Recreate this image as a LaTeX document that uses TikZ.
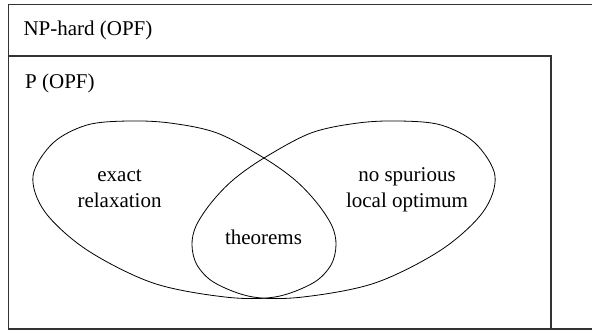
\documentclass[tikz,border=0pt]{standalone}
\usepackage{fontspec}
\setmainfont{Liberation Serif}
\newfontfamily\tms{LiberationSerif-Regular.ttf}
\begin{document}
\begin{tikzpicture}[x=1pt,y=-1pt,
  frame/.style={draw=black!80,line width=1.1pt},
  blob/.style={draw=black,line width=0.8pt},
  lbl/.style={inner sep=0pt,font=\tms\fontsize{21}{25.7}\selectfont,align=center}]
\useasboundingbox (0,0) rectangle (592,331);
% outer (cropped on the right)
\draw[frame] (592,4.3) -- (8.5,4.3) -- (8.5,329) -- (592,329);
% inner
\draw[frame] (8.5,56) -- (551,56) -- (551,329);
% left shape
\draw[blob] plot[smooth cycle,tension=0.55] coordinates {
 (33,176) (45,212) (87,250) (153,283) (225,297) (275,297) (313,283)
 (331,265) (336,245) (332,226) (317,203) (295,180) (264,158) (217,133)
 (170,123) (128,121) (87,125) (53,143)};
% right shape (mirror about x=264)
\draw[blob] plot[smooth cycle,tension=0.55] coordinates {
 (495,176) (483,212) (441,250) (375,283) (303,297) (253,297) (215,283)
 (197,265) (192,245) (196,226) (211,203) (233,180) (264,158) (311,133)
 (358,123) (400,121) (441,125) (475,143)};
\node[lbl,anchor=base west] (np) at (23.3,36) {NP-hard (OPF)};
\node[lbl,anchor=base west] (p) at (25,88.3) {P (OPF)};
\node[lbl,anchor=base] (ex) at (119.5,207.2) {exact\\relaxation};
\node[lbl,anchor=base] (ns) at (407,207.2) {no spurious\\local optimum};
\node[lbl,anchor=base] (th) at (263.5,244.3) {theorems};
\end{tikzpicture}
\end{document}
